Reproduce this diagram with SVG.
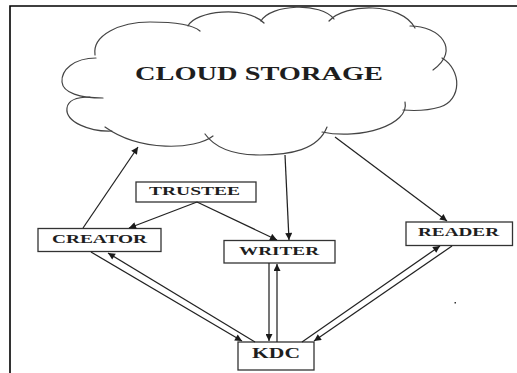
<svg xmlns="http://www.w3.org/2000/svg" width="517" height="373" viewBox="0 0 517 373">
  <defs>
    <marker id="arrow" viewBox="0 0 10 10" refX="10" refY="5" markerWidth="8" markerHeight="7" markerUnits="userSpaceOnUse" orient="auto">
      <path d="M0,0 L10,5 L0,10 Z" fill="#1a1a1a"/>
    </marker>
    <style>
      .frame { stroke: #000; stroke-width: 1.6; fill: none; }
      .cloud path { fill: none; stroke: #444; stroke-width: 1.2; stroke-linecap: round; }
      .box { fill: #fff; stroke: #333; stroke-width: 1.3; }
      .label { font-family: "Liberation Serif", "Times New Roman", serif; font-weight: bold; fill: #1e1e1e; }
      .edges line { stroke: #222; stroke-width: 1.25; marker-end: url(#arrow); }
    </style>
  </defs>

  <rect width="517" height="373" fill="#fff"/>

  <!-- page frame: top and left rules only -->
  <path class="frame" d="M10,373 L10,6 L517,6"/>

  <!-- cloud storage: each lobe is an open arc, ends tucked inside -->
  <g id="cloud-storage">
    <g class="cloud">
      <path d="M96,58 C74,58 61,70 62,82 C63,93 80,98 103,98"/>
      <path d="M95,55 C92,35 120,22 150,22 C175,22 192,24 200,31"/>
      <path d="M188,26 C195,11 246,5 264,23"/>
      <path d="M261,21 C271,4 321,2 334,19"/>
      <path d="M329,21 C345,3 401,2 415,28"/>
      <path d="M410,26 C440,26 461,50 433,70"/>
      <path d="M442,58 C462,70 462,100 440,107 C430,110 415,111 403,110"/>
      <path d="M405,102 C410,125 360,140 322,132"/>
      <path d="M327,127 C318,150 290,155 260,155 C235,155 215,148 205,134"/>
      <path d="M213,136 C195,150 140,152 105,127"/>
      <path d="M112,131 C90,132 65,122 67,108 C68,100 78,97 90,97"/>
    </g>
    <text class="label" x="135" y="80" font-size="19.5" textLength="248" lengthAdjust="spacingAndGlyphs">CLOUD STORAGE</text>
  </g>

  <g id="trustee">
    <rect class="box" x="136" y="182" width="120" height="20"/>
    <text class="label" x="149" y="194.5" font-size="13.5" textLength="91" lengthAdjust="spacingAndGlyphs">TRUSTEE</text>
  </g>

  <g id="creator">
    <rect class="box" x="38" y="228.5" width="123" height="23"/>
    <text class="label" x="52" y="243" font-size="13.5" textLength="95" lengthAdjust="spacingAndGlyphs">CREATOR</text>
  </g>

  <g id="writer">
    <rect class="box" x="224" y="240.5" width="111" height="22.5"/>
    <text class="label" x="239" y="255" font-size="13.5" textLength="80" lengthAdjust="spacingAndGlyphs">WRITER</text>
  </g>

  <g id="reader">
    <rect class="box" x="406" y="222" width="106.5" height="23.5"/>
    <text class="label" x="418" y="236" font-size="13.5" textLength="81" lengthAdjust="spacingAndGlyphs">READER</text>
  </g>

  <g id="kdc">
    <rect class="box" x="238" y="342" width="76" height="28"/>
    <text class="label" x="252" y="358" font-size="14" textLength="48" lengthAdjust="spacingAndGlyphs">KDC</text>
  </g>

  <!-- stray mark -->
  <rect x="454.5" y="302" width="1.5" height="1.5" fill="#333"/>

  <g id="connectors" class="edges">
    <!-- creator uploads to cloud -->
    <line x1="83" y1="228" x2="138" y2="147"/>
    <!-- cloud to writer and reader -->
    <line x1="285" y1="155" x2="289" y2="240"/>
    <line x1="335" y1="137" x2="447" y2="221"/>
    <!-- trustee to creator and writer -->
    <line x1="197" y1="202" x2="129" y2="228"/>
    <line x1="197" y1="202" x2="277" y2="240"/>
    <!-- creator and KDC -->
    <line x1="91" y1="252" x2="242" y2="341"/>
    <line x1="255" y1="342" x2="108" y2="253"/>
    <!-- writer and KDC -->
    <line x1="269" y1="263" x2="269" y2="341"/>
    <line x1="277" y1="342" x2="277" y2="264"/>
    <!-- reader and KDC -->
    <line x1="302" y1="342" x2="440" y2="246"/>
    <line x1="452" y1="246" x2="314" y2="341"/>
  </g>
</svg>
